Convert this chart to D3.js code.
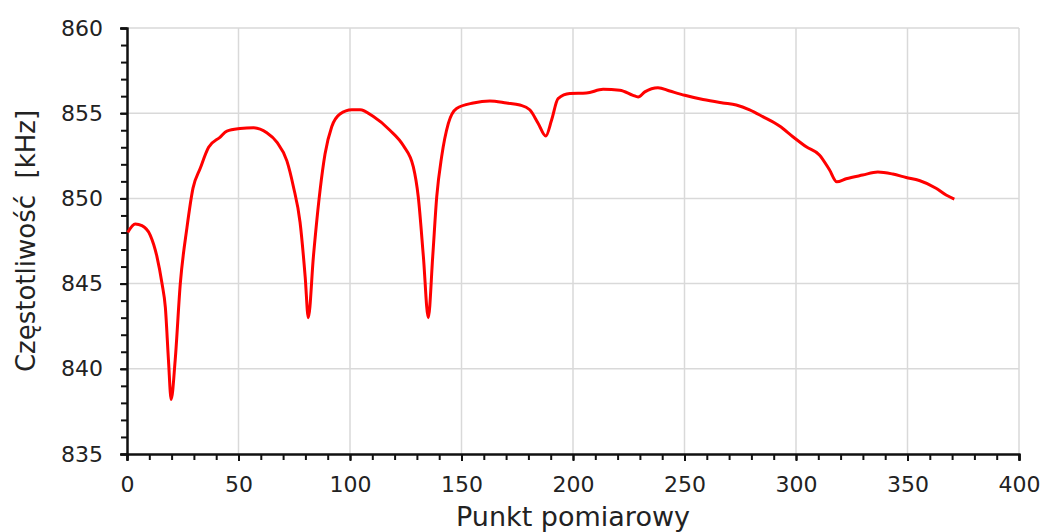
<!DOCTYPE html>
<html>
<head>
<meta charset="utf-8">
<script src="https://cdn.jsdelivr.net/npm/d3@7"></script>
<style>
  body { margin: 0; background: #fff; }
  svg text { font-family: "DejaVu Sans", Verdana, sans-serif; fill: #222; }
</style>
</head>
<body>
<div id="chart"></div>
<script>
// measurement point index
var points = [0.3, 3.7, 6.7, 10.4, 13.4, 15.7, 17.2, 18.6, 19.8, 21.6, 23.9, 26.9, 29.6, 32.8, 36.6, 41.8, 44.8, 50.7, 56.7, 62.7, 67.2, 71.7, 74.6, 77.6, 79.9, 81.3,
  83.6, 86.6, 88.8, 91.8, 95.5, 100.8, 104.5, 110.5, 117.9, 123.9, 128.4, 130.6, 132.9, 135.1, 137.1, 138.9, 141.1, 144.1, 147.8, 155.3,
  162.7, 170.2, 176.2, 180.6, 184.4, 187.8, 190.4, 193.3, 198.6, 206, 213.5, 221, 226.9, 229.2, 232.2, 238.1, 243.4, 250.1, 258.3,
  267.2, 273.2, 279.2, 285.1, 292.6, 298.6, 304.6, 310.5, 315, 318.3, 322.5, 329.9, 336.7, 343.4, 349.4, 355.3, 362.8, 367.3, 371];
// frequency [kHz]
var freqs = [848.0, 848.5, 848.4, 847.85, 846.6, 845.0, 843.6, 840.5, 838.2, 840.5, 845.0, 848.3, 850.6, 851.75, 853.0, 853.6, 853.95, 854.1, 854.15, 853.85, 853.3, 852.2, 850.7, 848.6, 845.4, 843.0,
  846.6, 850.5, 852.6, 854.2, 854.95, 855.2, 855.2, 854.8, 854.0, 853.1, 851.85, 850.1, 846.6, 843.0, 846.6, 850.1, 852.45, 854.4, 855.28, 855.6,
  855.72, 855.6, 855.48, 855.2, 854.4, 853.66, 854.6, 855.85, 856.15, 856.18, 856.4, 856.35, 856.05, 855.95, 856.25, 856.5, 856.3, 856.05, 855.8,
  855.6, 855.48, 855.2, 854.8, 854.25, 853.62, 853.03, 852.55, 851.68, 850.97, 851.15, 851.37, 851.55, 851.43, 851.23, 851.05, 850.6, 850.2, 849.96];

var xTicks = [0, 50, 100, 150, 200, 250, 300, 350, 400];
var yTicks = [835, 840, 845, 850, 855, 860];

var width = 1042, height = 532;
var plotLeft = 127, plotRight = 1019, plotTop = 28, plotBottom = 454;

var svg = d3.select('#chart').append('svg').attr('width', width).attr('height', height);

var xScale = d3.scaleLinear().domain([0, 400]).range([plotLeft, plotRight]);
var yScale = d3.scaleLinear().domain([835, 860]).range([plotBottom, plotTop]);

// grid
svg.append('g').selectAll('line').data(xTicks.slice(1)).enter().append('line')
  .attr('x1', function(d) { return xScale(d); }).attr('x2', function(d) { return xScale(d); })
  .attr('y1', plotTop).attr('y2', plotBottom)
  .attr('stroke', '#d9d9d9').attr('stroke-width', 1.5);
svg.append('g').selectAll('line').data(yTicks.slice(1)).enter().append('line')
  .attr('x1', plotLeft).attr('x2', plotRight)
  .attr('y1', function(d) { return yScale(d); }).attr('y2', function(d) { return yScale(d); })
  .attr('stroke', '#d9d9d9').attr('stroke-width', 1.5);

// minor ticks
var xMinor = d3.axisBottom(xScale).tickValues(d3.range(0, 401, 10)).tickSize(6).tickFormat('');
var yMinor = d3.axisLeft(yScale).tickValues(d3.range(835, 861, 1)).tickSize(6).tickFormat('');

var xAxis = d3.axisBottom(xScale).tickValues(xTicks).tickSize(7).tickPadding(15);
var yAxis = d3.axisLeft(yScale).tickValues(yTicks).tickSize(7).tickPadding(17);

function styleAxis(g) {
  g.select('.domain').attr('stroke', '#111').attr('stroke-width', 2);
  g.selectAll('.tick line').attr('stroke', '#111').attr('stroke-width', 2);
  g.selectAll('.tick text').style('font-size', '22px').attr('fill', '#222');
}

svg.append('g').attr('transform', 'translate(0,' + plotBottom + ')').call(xMinor).call(styleAxis);
svg.append('g').attr('transform', 'translate(' + plotLeft + ',0)').call(yMinor).call(styleAxis);
svg.append('g').attr('transform', 'translate(0,' + plotBottom + ')').call(xAxis).call(styleAxis);
svg.append('g').attr('transform', 'translate(' + plotLeft + ',0)').call(yAxis).call(styleAxis);

// line
var data = points.map(function(p, i) { return { x: p, y: freqs[i] }; });
var line = d3.line()
  .x(function(d) { return xScale(d.x); })
  .y(function(d) { return yScale(d.y); })
  .curve(d3.curveMonotoneX);

svg.append('path')
  .attr('d', line(data))
  .attr('fill', 'none')
  .attr('stroke', '#ff0000')
  .attr('stroke-width', 3)
  .attr('stroke-linejoin', 'round');

// titles
svg.append('text')
  .attr('x', (plotLeft + plotRight) / 2).attr('y', 526)
  .attr('text-anchor', 'middle')
  .style('font-size', '27px')
  .text('Punkt pomiarowy');

svg.append('text')
  .attr('transform', 'translate(35,' + ((plotTop + plotBottom) / 2) + ') rotate(-90)')
  .attr('text-anchor', 'middle')
  .style('font-size', '26px')
  .style('white-space', 'pre')
  .text('Częstotliwość  [kHz]');
</script>
</body>
</html>
